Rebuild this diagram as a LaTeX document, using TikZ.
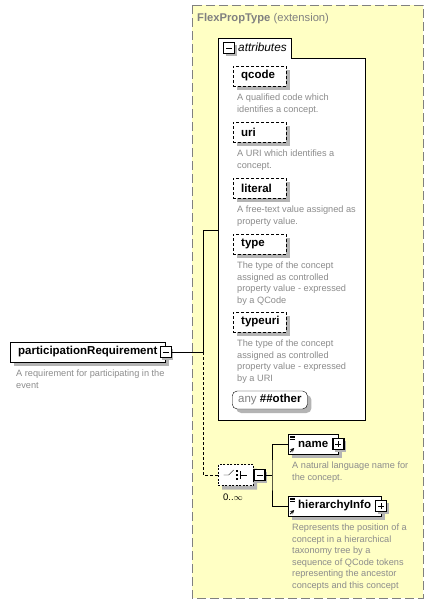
\documentclass[tikz,border=0pt]{standalone}
\usepackage{fontspec}
\setmainfont{Liberation Sans}
\usetikzlibrary{shapes.misc}

\definecolor{extyellow}{RGB}{255,255,196}
\definecolor{extgray}{RGB}{128,128,128}
\definecolor{descgray}{RGB}{140,140,140}
\definecolor{shadegray}{RGB}{180,180,180}

\tikzset{
  boxshadow/.style={preaction={draw=none, fill=shadegray, transform canvas={shift={(4pt,-4pt)}}}},
  elembox/.style={draw=black, fill=white, anchor=west, minimum height=20pt, inner xsep=8pt, inner ysep=0pt,
    font=\fontsize{11.5}{13}\selectfont\bfseries, boxshadow},
  attrbox/.style={elembox, dash pattern=on 3pt off 2pt, text width=37pt, align=left},
  refbox/.style={elembox, inner xsep=10pt, path picture={
      \foreach \k in {0,1,2}
        \draw[line width=0.5pt] ([shift={(2pt,-2pt-\k*1.7pt)}]path picture bounding box.north west) -- ++(5pt,0pt);
      \draw[line width=0.8pt,-stealth] ([shift={(2pt,2pt)}]path picture bounding box.south west) -- ++(4pt,4pt);}},
  descr/.style={anchor=north west, inner sep=0pt, align=left, text=descgray, font=\fontsize{9.2}{11.5}\selectfont},
  btnbox/.style={draw=black, fill=white, line width=1.2pt, minimum size=11pt, inner sep=0pt,
    preaction={draw=none, fill=shadegray, transform canvas={shift={(2pt,-2pt)}}}},
  btnminus/.style={btnbox, path picture={
      \draw[line width=1pt] ([xshift=2.5pt]path picture bounding box.west) -- ([xshift=-2.5pt]path picture bounding box.east);}},
  btnplus/.style={btnbox, path picture={
      \draw[line width=1pt] ([xshift=2.5pt]path picture bounding box.west) -- ([xshift=-2.5pt]path picture bounding box.east);
      \draw[line width=1pt] ([yshift=2.5pt]path picture bounding box.south) -- ([yshift=-2.5pt]path picture bounding box.north);}},
  seqbox/.style={chamfered rectangle, chamfered rectangle xsep=6pt, chamfered rectangle ysep=5pt, draw=black, fill=white,
    dash pattern=on 2pt off 1.5pt, minimum width=35pt, minimum height=21pt, inner sep=0pt, anchor=west, boxshadow},
  anybox/.style={elembox, rounded corners=5pt, inner xsep=6pt, minimum height=18pt},
}

\begin{document}
\begin{tikzpicture}[x=1pt,y=-1pt]
  \useasboundingbox (0,0) rectangle (434,605);
  % Extension area
  \draw[fill=extyellow, draw=extgray, line width=1pt, dash pattern=on 9pt off 4pt] (192,5) rectangle (423,598);
  \node[anchor=west, inner sep=0pt, text=extgray, font=\fontsize{11.2}{13}\selectfont] (exttitle) at (197,19)
    {\textbf{FlexPropType} (extension)};
  % Attribute group
  \draw[fill=white] (218,38) -| (291,58) -| (365,420) -| (218,38) -- cycle;
  \coordinate (attrsin) at (218,230);
  \node[btnminus] (attrbtn) at (229,48) {};
  \node[anchor=west, inner sep=0pt, font=\fontsize{11.8}{13}\selectfont\itshape] (attrlabel) at (238,47) {attributes};
  \foreach \nm/\y/\txt in {
      qcode/76/{A qualified code which\\identifies a concept.},
      uri/132/{A URI which identifies a\\concept.},
      literal/188/{A free-text value assigned as\\property value.},
      type/244/{The type of the concept\\assigned as controlled\\property value - expressed\\by a QCode},
      typeuri/322/{The type of the concept\\assigned as controlled\\property value - expressed\\by a URI}}{
    \node[attrbox] (\nm) at (233,\y) {\nm};
    \node[descr] (\nm-desc) at (237,\y+18) {\txt};}
  \node[anybox] (anyother) at (232,400) {\textcolor{extgray}{\mdseries any} \#\#other};
  % Element
  \node[elembox] (partreq) at (10,352) {participationRequirement};
  \node[btnminus] (partbtn) at (partreq.east) {};
  \node[descr] (partreq-desc) at (16,370) {A requirement for participating in the\\event};
  % Sequence
  \node[seqbox] (seq) at (218,475) {};
  \draw ([shift={(-12,0)}]seq.center) -- ++(5,0) -- ++(5,-5);
  \foreach \dy in {-4,0,4} \fill ([shift={(0.5,\dy-1)}]seq.center) rectangle ++(2,2);
  \draw ([shift={(4,-4)}]seq.center) -- ++(0,8);
  \draw ([shift={(4,0)}]seq.center) -- ++(7,0);
  \node[btnminus, anchor=west] (seqbtn) at (seq.east) {};
  \node[inner sep=0pt, font=\fontsize{9.5}{11}\selectfont] (seqmult) at (233,497) {0..$\infty$};
  \node[refbox] (name) at (288,444) {name};
  \node[btnplus] (namebtn) at (name.east) {};
  \node[descr] (name-desc) at (292,462) {A natural language name for\\the concept.};
  \node[refbox] (hinfo) at (288,506) {hierarchyInfo};
  \node[btnplus] (hinfobtn) at (hinfo.east) {};
  \node[descr] (hinfo-desc) at (292,524) {Represents the position of a\\concept in a hierarchical\\taxonomy tree by a\\sequence of QCode tokens\\representing the ancestor\\concepts and this concept};
  % Connectors
  \coordinate (mainfork) at (203,352);
  \coordinate (seqfork) at (272,475);
  \draw (partbtn.east) -- (mainfork) |- (attrsin);
  \draw[dash pattern=on 3pt off 2pt] (mainfork) |- (seq.west);
  \draw (seqbtn.east) -- (seqfork);
  \draw (name.west) -| (seqfork) |- (hinfo.west);
\end{tikzpicture}
\end{document}
